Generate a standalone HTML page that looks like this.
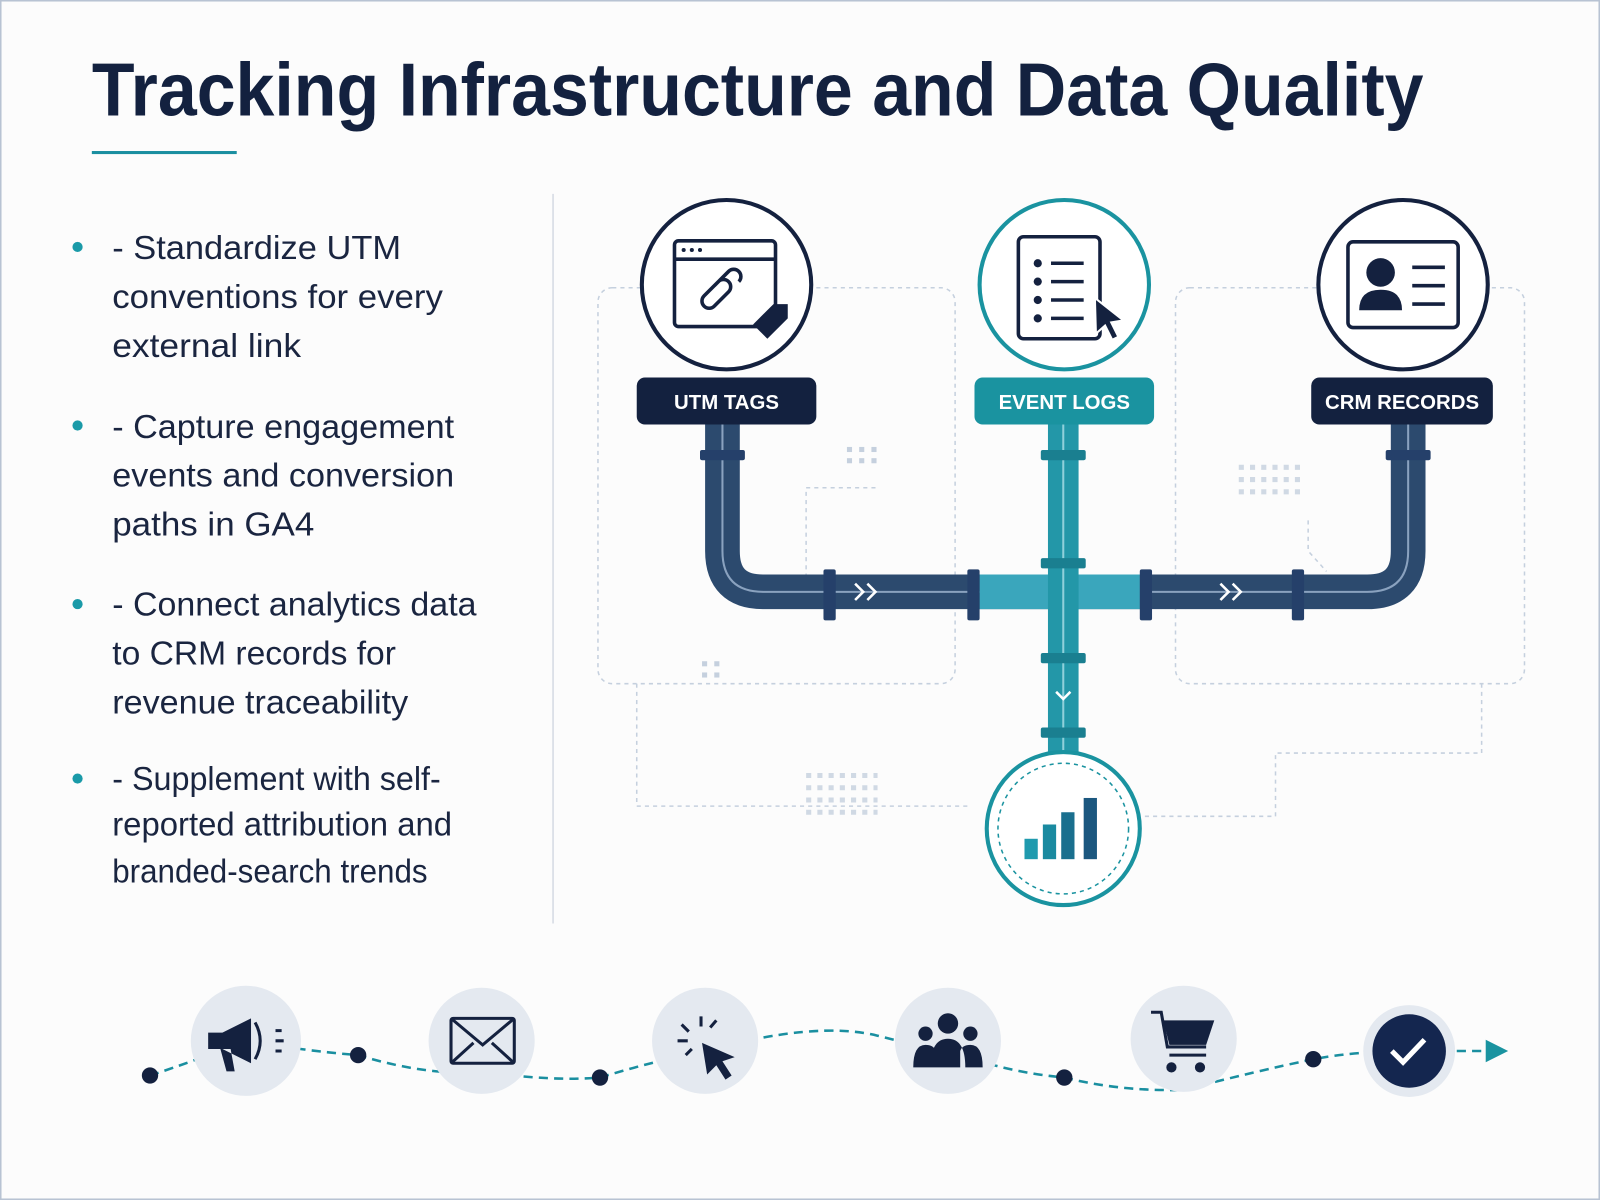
<!DOCTYPE html>
<html><head><meta charset="utf-8"><style>
html,body{margin:0;padding:0;background:#fcfcfc;}
svg{display:block}
</style></head><body>
<svg width="1600" height="1200" viewBox="0 0 1568 1176" xmlns="http://www.w3.org/2000/svg" font-family="Liberation Sans, sans-serif">
<rect x="0.5" y="0.5" width="1567" height="1175" fill="#fcfcfc" stroke="#b8c3d3" stroke-width="2"/>
<text x="90" y="113" font-size="74" font-weight="bold" fill="#13213f" textLength="1305" lengthAdjust="spacingAndGlyphs">Tracking Infrastructure and Data Quality</text>
<rect x="90" y="148" width="142" height="3" fill="#1a8fa0"/>
<line x1="542" y1="190" x2="542" y2="905" stroke="#d5dbe3" stroke-width="1.5"/>
<g font-size="33" fill="#1a2540" lengthAdjust="spacingAndGlyphs">
<circle cx="76" cy="242" r="5" fill="#1a9aa8"/>
<text x="110" y="254" textLength="283" lengthAdjust="spacingAndGlyphs">- Standardize UTM</text><text x="110" y="302" textLength="324" lengthAdjust="spacingAndGlyphs">conventions for every</text><text x="110" y="350" textLength="185" lengthAdjust="spacingAndGlyphs">external link</text>
<circle cx="76" cy="417" r="5" fill="#1a9aa8"/>
<text x="110" y="429" textLength="335" lengthAdjust="spacingAndGlyphs">- Capture engagement</text><text x="110" y="477" textLength="335" lengthAdjust="spacingAndGlyphs">events and conversion</text><text x="110" y="525" textLength="198" lengthAdjust="spacingAndGlyphs">paths in GA4</text>
<circle cx="76" cy="592" r="5" fill="#1a9aa8"/>
<text x="110" y="603" textLength="357" lengthAdjust="spacingAndGlyphs">- Connect analytics data</text><text x="110" y="651" textLength="278" lengthAdjust="spacingAndGlyphs">to CRM records for</text><text x="110" y="699" textLength="290" lengthAdjust="spacingAndGlyphs">revenue traceability</text>
<circle cx="76" cy="763" r="5" fill="#1a9aa8"/>
<text x="110" y="774" textLength="322" lengthAdjust="spacingAndGlyphs">- Supplement with self-</text><text x="110" y="819" textLength="333" lengthAdjust="spacingAndGlyphs">reported attribution and</text><text x="110" y="865" textLength="309" lengthAdjust="spacingAndGlyphs">branded-search trends</text>
</g>
<g fill="none" stroke="#c5d0de" stroke-width="1.5" stroke-dasharray="4 4">
<rect x="586" y="282" width="350" height="388" rx="14"/>
<rect x="1152" y="282" width="342" height="388" rx="14"/>
<path d="M624 670 V790 H950"/>
<path d="M1452 670 V738 H1250 V800 H1120"/>
<path d="M858 478 H790 V570"/>
<path d="M1282 510 V540 L1300 560"/>
</g>
<g fill="#c5d0de">
<rect x="830" y="438" width="5" height="5"/><rect x="842" y="438" width="5" height="5"/><rect x="854" y="438" width="5" height="5"/>
<rect x="830" y="449" width="5" height="5"/><rect x="842" y="449" width="5" height="5"/><rect x="854" y="449" width="5" height="5"/>
<rect x="688" y="648" width="5" height="5"/><rect x="700" y="648" width="5" height="5"/><rect x="688" y="659" width="5" height="5"/><rect x="700" y="659" width="5" height="5"/>
</g>
<g stroke="#d0d9e4" stroke-width="5" stroke-dasharray="5 6" fill="none">
<path d="M1214 458 h66 M1214 470 h66 M1214 482 h66"/>
<path d="M790 760 h70 M790 772 h70 M790 784 h70 M790 796 h70"/>
</g>
<path d="M708 416 V540 Q708 580 748 580 H1340 Q1380 580 1380 540 V416" fill="none" stroke="#2c4a6e" stroke-width="34"/>
<path d="M708 416 V540 Q708 580 748 580 H1340 Q1380 580 1380 540 V416" fill="none" stroke="#8aa2bf" stroke-width="2"/>
<path d="M960 580 H1120" stroke="#3aa6bc" stroke-width="34"/>
<path d="M1042 416 V740" stroke="#2397a8" stroke-width="30"/>
<path d="M1042 416 V740" stroke="#8fd0da" stroke-width="2"/>
<g fill="#25406a">
<rect x="686" y="441" width="44" height="10" rx="2"/><rect x="1358" y="441" width="44" height="10" rx="2"/>
<rect x="807" y="558" width="12" height="50" rx="2"/><rect x="948" y="558" width="12" height="50" rx="2"/>
<rect x="1117" y="558" width="12" height="50" rx="2"/><rect x="1266" y="558" width="12" height="50" rx="2"/>
</g>
<g fill="#1a7f90">
<rect x="1020" y="441" width="44" height="10" rx="2"/><rect x="1020" y="547" width="44" height="10" rx="2"/>
<rect x="1020" y="640" width="44" height="10" rx="2"/><rect x="1020" y="713" width="44" height="10" rx="2"/>
</g>
<g fill="none" stroke="#fff" stroke-width="2.5">
<path d="M838 572 l8 8 l-8 8 M850 572 l8 8 l-8 8"/>
<path d="M1196 572 l8 8 l-8 8 M1208 572 l8 8 l-8 8"/>
<path d="M1035 678 l7 7 l7 -7"/>
</g>
<circle cx="712" cy="279" r="83" fill="#fff" stroke="#14213f" stroke-width="4"/>
<circle cx="1043" cy="279" r="83" fill="#fff" stroke="#1a93a0" stroke-width="4"/>
<circle cx="1375" cy="279" r="83" fill="#fff" stroke="#14213f" stroke-width="4"/>
<g fill="none" stroke="#14213f" stroke-width="3.5">
<rect x="661" y="236" width="99" height="84" rx="4"/><line x1="661" y1="254" x2="760" y2="254"/>
<path d="M690 290 l14 -14 a7 7 0 0 1 10 10 l-14 14 a7 7 0 0 1 -10 -10z M700 280 l14 -14 a7 7 0 0 1 10 10"/>
<rect x="998" y="232" width="80" height="100" rx="5"/>
<path d="M1030 258 h32 M1030 276 h32 M1030 294 h32 M1030 312 h32"/>
<rect x="1321" y="237" width="108" height="84" rx="5"/>
<path d="M1384 262 h32 M1384 280 h32 M1384 298 h32"/>
</g>
<g fill="#14213f">
<circle cx="670" cy="245" r="2"/><circle cx="678" cy="245" r="2"/><circle cx="686" cy="245" r="2"/>
<path d="M738 318 l20 -20 h14 v14 l-20 20z"/>
<circle cx="1017" cy="258" r="4"/><circle cx="1017" cy="276" r="4"/><circle cx="1017" cy="294" r="4"/><circle cx="1017" cy="312" r="4"/>
<path d="M1073 292 l28 22 l-12 2 l7 14 l-6 3 l-7 -14 l-9 8z" stroke="#fff" stroke-width="2"/>
<circle cx="1353" cy="267" r="14"/><path d="M1332 304 q0 -20 21 -20 q21 0 21 20z"/>
</g>
<g font-size="20" font-weight="bold" fill="#fff" text-anchor="middle">
<rect x="624" y="370" width="176" height="46" rx="8" fill="#13213f"/><text x="712" y="401">UTM TAGS</text>
<rect x="955" y="370" width="176" height="46" rx="8" fill="#1a93a0"/><text x="1043" y="401">EVENT LOGS</text>
<rect x="1285" y="370" width="178" height="46" rx="8" fill="#13213f"/><text x="1374" y="401">CRM RECORDS</text>
</g>
<circle cx="1042" cy="812" r="75" fill="#fff" stroke="#1a93a0" stroke-width="4"/>
<circle cx="1042" cy="812" r="64" fill="none" stroke="#1a93a0" stroke-width="1.5" stroke-dasharray="4 4"/>
<rect x="1004" y="822" width="13" height="20" fill="#1f9aae"/><rect x="1022" y="808" width="13" height="34" fill="#1a8aa0"/>
<rect x="1040" y="796" width="13" height="46" fill="#1a6f8e"/><rect x="1062" y="782" width="13" height="60" fill="#1b577f"/>
<path d="M147 1054 Q190 1040 241 1020 Q300 1030 351 1034 Q420 1055 472 1050 Q540 1060 588 1056 Q640 1040 691 1030 Q800 1000 860 1015 Q920 1030 960 1040 Q1000 1052 1043 1056 Q1100 1070 1160 1068 Q1230 1050 1287 1038 Q1330 1030 1381 1030 L1455 1030" fill="none" stroke="#1a8fa0" stroke-width="2.5" stroke-dasharray="9 6"/>
<path d="M1456 1019 l22 11 l-22 11z" fill="#1a93a0"/>
<g fill="#14213f"><circle cx="147" cy="1054" r="8"/><circle cx="351" cy="1034" r="8"/><circle cx="588" cy="1056" r="8"/><circle cx="1043" cy="1056" r="8"/><circle cx="1287" cy="1038" r="8"/></g>
<g fill="#e4e9f0">
<circle cx="241" cy="1020" r="54"/><circle cx="472" cy="1020" r="52"/><circle cx="691" cy="1020" r="52"/>
<circle cx="929" cy="1020" r="52"/><circle cx="1160" cy="1018" r="52"/><circle cx="1381" cy="1030" r="45"/>
</g>
<circle cx="1381" cy="1030" r="36" fill="#14264f"/>
<path d="M1364 1030 l11 11 l21 -22" fill="none" stroke="#fff" stroke-width="5"/>
<g fill="#14213f">
<path d="M204 1012 h14 l28 -14 v44 l-28 -14 h-14z M216 1028 l6 22 h8 l-4 -22z"/>
<circle cx="929" cy="1003" r="10"/><circle cx="907" cy="1013" r="7"/><circle cx="951" cy="1013" r="7"/>
<path d="M912 1046 q0 -28 17 -28 q17 0 17 28z M895 1046 q0 -22 12 -22 q8 0 10 6 v16z M963 1046 q0 -22 -12 -22 q-8 0 -10 6 v16z"/>
<path d="M1140 1000 h50 l-8 24 h-36z"/><circle cx="1148" cy="1046" r="5"/><circle cx="1176" cy="1046" r="5"/>
<path d="M688 1022 l32 14 l-12 4 l9 14 l-6 4 l-9 -14 l-9 9z"/>
</g>
<g fill="none" stroke="#14213f" stroke-width="3">
<path d="M250 1002 q10 18 0 36" /><path d="M270 1010 h6 M270 1020 h8 M270 1030 h6"/>
<rect x="442" y="998" width="62" height="44" rx="2"/><path d="M442 998 l31 26 l31 -26 M442 1042 l22 -20 M504 1042 l-22 -20"/>
<path d="M1128 992 h10 l6 34 h38 M1146 1034 h36"/>
<path d="M687 996 v10 M668 1004 l7 7 M702 1000 l-6 7 M664 1020 h10 M672 1034 l6 -6"/>
</g>
</svg>
</body></html>
